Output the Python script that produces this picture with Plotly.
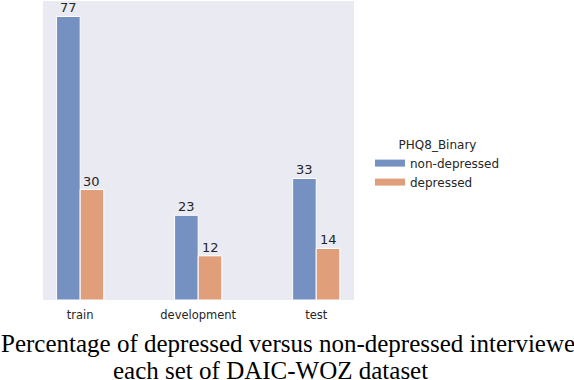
import plotly.graph_objects as go

categories = ["train", "development", "test"]
non_depressed = [77, 23, 33]
depressed = [30, 12, 14]
series_names = ["non-depressed", "depressed"]
legend_title = "PHQ8_Binary"
caption_line1 = "Percentage of depressed versus non-depressed interviewees in"
caption_line2 = "each set of DAIC-WOZ dataset"

BLUE = "#7491C1"
ORANGE = "#E19E7A"
W, H = 574, 380
L, R, T, B = 43, 220, 1, 80
pw = W - L - R
ph = H - T - B
XRANGE = [-0.315, 2.32]
YRANGE = [0, 81.2]
BARGAP = 0.6
px_per_unit = pw / (XRANGE[1] - XRANGE[0])
bar_w_units = (1 - BARGAP) / 2

fig = go.Figure()
series = [(series_names[0], non_depressed, BLUE, -0.5), (series_names[1], depressed, ORANGE, 0.5)]
for name, vals, col, off in series:
    fig.add_trace(go.Bar(
        x=categories, y=vals, name=name, showlegend=False,
        marker=dict(color=col, line=dict(color="white", width=1)),
        hoverinfo="skip",
    ))
    # legend-only entry with a wide flat swatch
    fig.add_trace(go.Scatter(
        x=[None], y=[None], mode="lines", name=name,
        line=dict(color=col, width=7), showlegend=True,
    ))
    # value labels above each bar
    for c, v in zip(categories, vals):
        fig.add_annotation(
            x=c, y=v, xref="x", yref="y", text=str(v), showarrow=False,
            xanchor="center", yanchor="bottom",
            xshift=off * bar_w_units * px_per_unit, yshift=-1,
            font=dict(family="DejaVu Sans", size=13, color="#262626"),
        )

fig.update_layout(
    width=W, height=H,
    margin=dict(l=L, r=R, t=T, b=B, autoexpand=False),
    paper_bgcolor="white", plot_bgcolor="#EAEAF2",
    barmode="group", bargap=BARGAP, bargroupgap=0,
    font=dict(family="DejaVu Sans", color="#262626"),
    legend=dict(
        title=dict(text=legend_title, side="top center",
                   font=dict(family="DejaVu Sans", size=12, color="#262626")),
        font=dict(family="DejaVu Sans", size=12, color="#262626"),
        xref="container", yref="container",
        x=370 / W, xanchor="left",
        y=1 - 133 / H, yanchor="top",
        bgcolor="rgba(0,0,0,0)", borderwidth=0,
        tracegroupgap=0,
    ),
    xaxis=dict(
        type="category", range=XRANGE,
        showgrid=False, zeroline=False, showline=False, ticks="",
        ticklabelstandoff=6,
        tickfont=dict(family="DejaVu Sans", size=11.5, color="#262626"),
    ),
    yaxis=dict(
        range=YRANGE, showgrid=False, zeroline=False,
        showticklabels=False, ticks="", showline=False,
    ),
)

def px_to_paper_x(px):
    return (px - L) / pw

def px_to_paper_y(py):
    return (T + ph - py) / ph

fig.add_annotation(
    text=caption_line1, xref="paper", yref="paper",
    x=px_to_paper_x(-1), y=px_to_paper_y(344), xanchor="left", yanchor="middle",
    showarrow=False, font=dict(family="Liberation Serif", size=25, color="black"),
)
fig.add_annotation(
    text=caption_line2, xref="paper", yref="paper",
    x=px_to_paper_x(270), y=px_to_paper_y(370), xanchor="center", yanchor="middle",
    showarrow=False, font=dict(family="Liberation Serif", size=25, color="black"),
)

fig.write_html(
    "out.html",
    config={"displayModeBar": False},
    post_script="document.body.style.margin='0';document.body.style.overflow='hidden';",
)
